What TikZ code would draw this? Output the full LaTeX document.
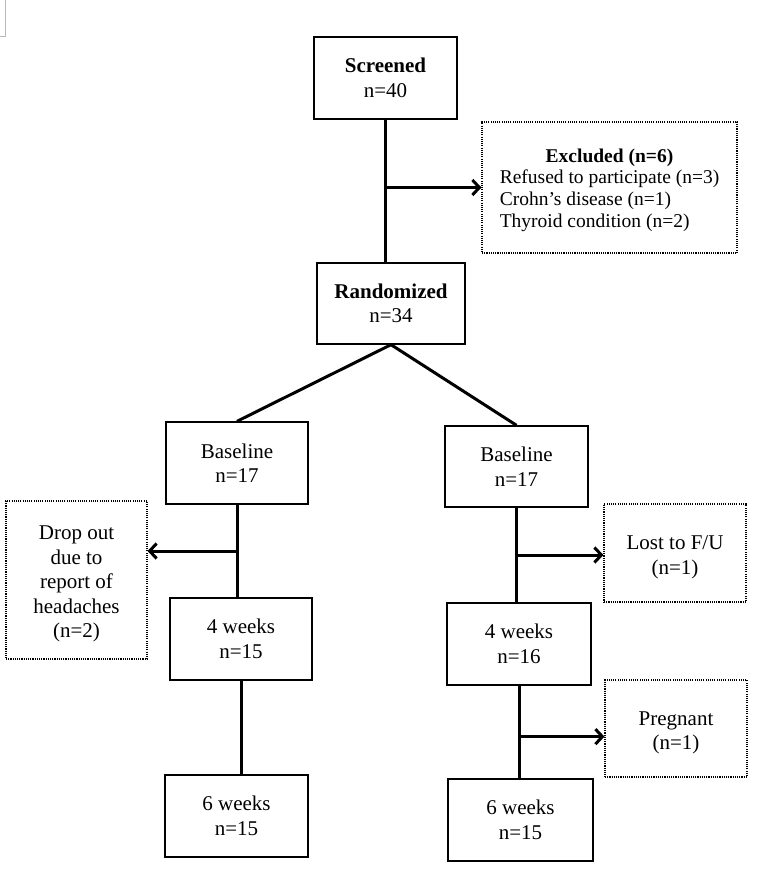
\documentclass[tikz,border=0pt]{standalone}
\usepackage{fontspec}
\setmainfont{Liberation Serif}
\usepackage{tikz}
\usetikzlibrary{arrows.meta,calc}
\newcommand{\topgap}{\rule{0pt}{22pt}}
\tikzset{
  stage/.style    = {draw,line width=1.4pt,align=center,inner sep=0pt,
                     minimum width=143pt,minimum height=82pt,
                     font=\fontsize{21}{24.5}\selectfont},
  sidebox/.style  = {draw,line width=1.1pt,dash pattern=on 1.1pt off 1.1pt,
                     align=center,inner sep=0pt,
                     font=\fontsize{21}{24.5}\selectfont},
  flowline/.style = {line width=3pt},
  flowarr/.style  = {-{Straight Barb[length=7pt,width=15pt]},line width=3pt}
}

\begin{document}
\begin{tikzpicture}[x=1pt,y=-1pt]
  \useasboundingbox (0,0) rectangle (771,890);
  \draw[gray!55,thin] (0,36) -| (5,0);

  % main stages
  \node[stage] (screened) at (385.5,78)  {\textbf{Screened}\\n=40};
  \node[stage,minimum width=148pt,minimum height=81pt] (randomized) at (391,303.5) {\textbf{Randomized}\\n=34};
  \node[stage,minimum width=142pt] (baseL) at (237,463)   {Baseline\\n=17};
  \node[stage,minimum height=81pt] (baseR) at (516.5,466.5) {Baseline\\n=17};
  \node[stage,minimum width=142pt] (wk4L)  at (241,639)   {4 weeks\\n=15};
  \node[stage,minimum width=144pt] (wk4R)  at (519,644)   {4 weeks\\n=16};
  \node[stage] (wk6L)  at (236.5,816) {6 weeks\\n=15};
  \node[stage,minimum width=145pt] (wk6R)  at (520.5,820) {6 weeks\\n=15};

  % losses
  \node[sidebox,minimum width=255pt,minimum height=131pt,
        font=\fontsize{19.5}{22.2}\selectfont] (excluded) at (609.5,187.5)
        {\topgap\textbf{Excluded (n=6)}\\
         \begin{tabular}{@{}l@{}}Refused to participate (n=3)\\Crohn’s disease (n=1)\\Thyroid condition (n=2)\end{tabular}};
  \node[sidebox,minimum width=141pt,minimum height=158pt] (dropout) at (76.5,580)
        {\topgap Drop out\\due to\\report of\\headaches\\(n=2)};
  \node[sidebox,minimum width=142pt,minimum height=98pt] (lost) at (675,553)  {\topgap Lost to F/U\\(n=1)};
  \node[sidebox,minimum width=142pt,minimum height=97pt] (preg) at (676,728.5) {\topgap Pregnant\\(n=1)};

  % branch points
  \coordinate (excbr)  at (screened.south |- excluded.west);
  \coordinate (dropbr) at ($(baseL.south)!0.5!(baseL.south |- wk4L.north)$);
  \coordinate (lostbr) at ($(baseR.south)!0.5!(baseR.south |- wk4R.north)$);
  \coordinate (pregbr) at ($(wk4R.south)!0.55!(wk4R.south |- wk6R.north)$);

  % connectors
  \draw[flowline] (screened.south) -- (screened.south |- randomized.north);
  \draw[flowarr]  (excbr) -- (excluded.west);
  \draw[flowline] (baseL.north) -- (randomized.south) -- (baseR.north);
  \draw[flowline] (baseL.south) -- (baseL.south |- wk4L.north);
  \draw[flowarr]  (dropbr) -- (dropbr -| dropout.east);
  \draw[flowline] (baseR.south) -- (baseR.south |- wk4R.north);
  \draw[flowarr]  (lostbr) -- (lostbr -| lost.west);
  \draw[flowline] (wk4L.south) -- (wk4L.south |- wk6L.north);
  \draw[flowline] (wk4R.south) -- (wk4R.south |- wk6R.north);
  \draw[flowarr]  (pregbr) -- (pregbr -| preg.west);
\end{tikzpicture}
\end{document}
